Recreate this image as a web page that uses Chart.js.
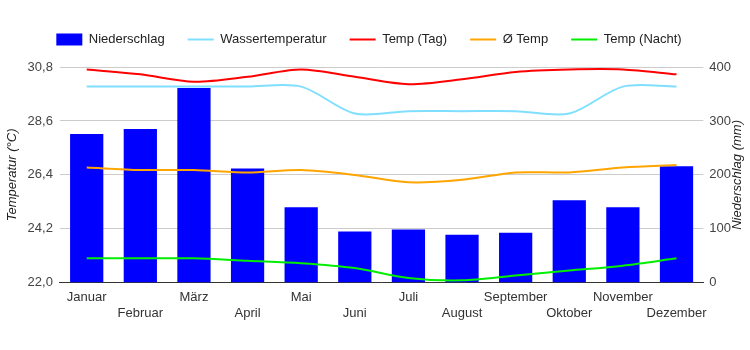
<!DOCTYPE html>
<html lang="de">
<head>
<meta charset="UTF-8">
<title>Klima</title>
<script src="https://cdn.jsdelivr.net/npm/chart.js"></script>
<style>
  html, body { margin: 0; padding: 0; background: #fff; }
  #wrap { width: 750px; height: 350px; }
</style>
</head>
<body>
<div id="wrap"><canvas id="klima"></canvas></div>
<script>
const months = ['Januar', 'Februar', 'März', 'April', 'Mai', 'Juni', 'Juli', 'August', 'September', 'Oktober', 'November', 'Dezember'];
const niederschlag = [276, 285, 361, 212, 140, 95, 99, 89, 93, 153, 140, 216];
const wasserTemp = [30.0, 30.0, 30.0, 30.0, 30.0, 28.9, 29.0, 29.0, 29.0, 28.9, 30.0, 30.0];
const tempTag = [30.7, 30.5, 30.2, 30.4, 30.7, 30.4, 30.1, 30.3, 30.6, 30.7, 30.7, 30.5];
const tempMittel = [26.7, 26.6, 26.6, 26.5, 26.6, 26.4, 26.1, 26.2, 26.5, 26.5, 26.7, 26.8];
const tempNacht = [23.0, 23.0, 23.0, 22.9, 22.8, 22.6, 22.2, 22.1, 22.3, 22.5, 22.7, 23.0];

// every second label goes on a second row
const xLabels = months.map((m, i) => i % 2 === 0 ? [m, ''] : ['', m]);

const font = 'Liberation Sans, Arial, sans-serif';

// right axis title reads bottom-to-top, so draw it here
const rightTitle = {
  id: 'rightTitle',
  afterDraw(chart) {
    const c = chart.ctx;
    const a = chart.chartArea;
    c.save();
    c.translate(737, (a.top + a.bottom) / 2);
    c.rotate(-Math.PI / 2);
    c.font = 'italic 13px ' + font;
    c.fillStyle = '#222';
    c.textAlign = 'center';
    c.textBaseline = 'middle';
    c.fillText('Niederschlag (mm)', 0, 0);
    c.restore();
  }
};

// extra room under the legend
const legendGap = {
  id: 'legendGap',
  beforeInit(chart) {
    const fit = chart.legend.fit;
    chart.legend.fit = function () {
      fit.bind(chart.legend)();
      this.height += 11;
    };
  }
};

const line = (label, data, color) => ({
  type: 'line',
  label: label,
  data: data,
  yAxisID: 'yT',
  borderColor: color,
  backgroundColor: color,
  borderWidth: 2,
  pointRadius: 0,
  tension: 0.3,
  fill: false,
  order: 0,
  pointStyle: 'line'
});

new Chart(document.getElementById('klima'), {
  data: {
    labels: xLabels,
    datasets: [
      {
        type: 'bar',
        label: 'Niederschlag',
        data: niederschlag,
        yAxisID: 'yN',
        backgroundColor: '#0000ff',
        borderWidth: 0,
        barPercentage: 0.62,
        categoryPercentage: 1,
        order: 1,
        pointStyle: 'rect'
      },
      line('Wassertemperatur', wasserTemp, '#80deff'),
      line('Temp (Tag)', tempTag, '#ff0000'),
      line('Ø Temp', tempMittel, '#ffa500'),
      line('Temp (Nacht)', tempNacht, '#00ee00')
    ]
  },
  options: {
    responsive: true,
    maintainAspectRatio: false,
    animation: false,
    layout: { padding: { top: 10, left: 1, right: 13, bottom: 22 } },
    plugins: {
      tooltip: { enabled: false },
      legend: {
        position: 'top',
        labels: {
          usePointStyle: true,
          pointStyleWidth: 26,
          boxHeight: 12,
          padding: 23,
          color: '#222',
          font: { family: font, size: 13 },
          sort: (a, b) => a.datasetIndex - b.datasetIndex
        }
      }
    },
    scales: {
      x: {
        grid: { display: false, drawTicks: false },
        border: { color: '#333', width: 1 },
        ticks: {
          autoSkip: false,
          maxRotation: 0,
          padding: 7,
          color: '#333',
          font: { family: font, size: 13 }
        }
      },
      yT: {
        position: 'left',
        min: 22,
        max: 30.8,
        grid: { color: '#cccccc', drawTicks: false },
        border: { display: false },
        ticks: {
          stepSize: 2.2,
          padding: 7,
          color: '#444',
          font: { family: font, size: 13 },
          callback: v => v.toFixed(1).replace('.', ',')
        },
        title: {
          display: true,
          text: 'Temperatur (°C)',
          color: '#222',
          padding: { top: 4, bottom: 0 },
          font: { family: font, size: 13, style: 'italic' }
        }
      },
      yN: {
        position: 'right',
        min: 0,
        max: 400,
        grid: { drawOnChartArea: false, drawTicks: false },
        border: { display: false },
        ticks: {
          stepSize: 100,
          padding: 6,
          color: '#444',
          font: { family: font, size: 13 }
        }
      }
    }
  },
  plugins: [rightTitle, legendGap]
});
</script>
</body>
</html>
